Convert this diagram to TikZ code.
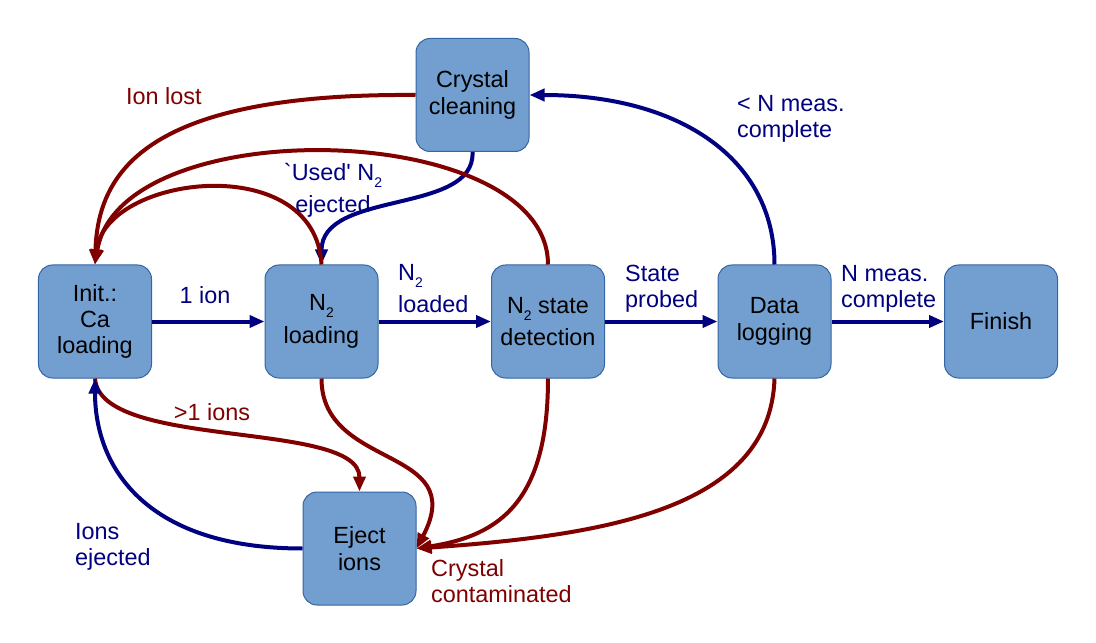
\documentclass[tikz,border=0pt]{standalone}
\usepackage{fontspec}
\newfontfamily\lsans{Liberation Sans}
\usetikzlibrary{arrows.meta}
\definecolor{boxfill}{HTML}{729FCF}
\definecolor{boxline}{HTML}{3465A4}
\definecolor{navyc}{HTML}{000080}
\definecolor{maroonc}{HTML}{800000}
\newcommand\Ntwo{N\raisebox{-7bp}{\fontsize{14}{14}\selectfont 2}}
\begin{document}
\begin{tikzpicture}[x=1bp,y=-1bp,
  font=\lsans\fontsize{23.5}{26.5}\selectfont,
  box/.style={draw=boxline, line width=1bp, fill=boxfill, rounded corners=14bp,
    minimum width=113bp, minimum height=113bp, inner sep=0pt, align=center, text=black},
  nv/.style={draw=navyc, line width=4bp, -{Triangle[length=15bp,width=12bp]}},
  rd/.style={draw=maroonc, line width=4bp, -{Triangle[length=15bp,width=12bp]}},
  nlab/.style={text=navyc, inner sep=0pt},
  rlab/.style={text=maroonc, inner sep=0pt}]
\useasboundingbox (0,0) rectangle (1096,643);
% nodes
\node[box] (init)  at (95,321.5)    {Init.:\\Ca\\loading};
\node[box] (n2)    at (321.5,321.5) {\Ntwo\\[6bp]loading};
\node[box] (det)   at (548,321.5)   {\Ntwo{} state\\[6bp]detection};
\node[box] (log)   at (774.5,321.5) {Data\\logging};
\node[box] (fin)   at (1001,321.5)  {Finish};
\node[box] (clean) at (472.5,95)    {Crystal\\cleaning};
\node[box] (eject) at (359.5,548.5) {Eject\\ions};
% straight connectors
\draw[nv] (init.east) -- (n2.west);
\draw[nv] (n2.east) -- (det.west);
\draw[nv] (det.east) -- (log.west);
\draw[nv] (log.east) -- (fin.west);
% upper curves
\draw[nv] (log.north) .. controls +(0,-105) and +(151,0) .. (clean.east);
\draw[nv] (clean.south) .. controls +(3,63) and +(0,-75) .. (n2.north);
\draw[rd] (clean.west) .. controls +(-266,-2) and +(3,-95) .. (init.north);
\draw[rd] (n2.north) .. controls +(-6,-115) and +(10,-90) .. (init.north);
\draw[rd] (det.north) .. controls +(0,-145) and +(25,-155) .. (init.north);
% lower curves
\draw[rd] (init.south) .. controls +(5,72) and +(0,-72) .. (eject.north);
\draw[nv] (eject.west) .. controls +(-153,0) and +(0,92) .. (init.south);
\draw[rd] (n2.south) .. controls +(0,92) and +(54,-103) .. (eject.east);
\draw[rd] (det.south) .. controls +(0,122) and +(84,-13) .. (eject.east);
\draw[rd] (log.south) .. controls +(-4,132) and +(184,-13) .. (eject.east);
% labels
\node[nlab, anchor=north] (l1) at (205,286) {1 ion};
\node[nlab, anchor=north west, align=left] (l2) at (398,264) {\Ntwo\\[6bp]loaded};
\node[nlab, anchor=north west, align=left] (l3) at (625,265) {State\\probed};
\node[nlab, anchor=north west, align=left] (l4) at (841,265) {N meas.\\complete};
\node[nlab, anchor=north west, align=left] (l5) at (737,95) {< N meas.\\complete};
\node[rlab, anchor=north west] (l6) at (126,87) {Ion lost};
\node[nlab, anchor=north, align=center] (l7) at (333,163) {`Used' \Ntwo\\[6bp]ejected};
\node[rlab, anchor=north] (l8) at (212,403) {>1 ions};
\node[nlab, anchor=north west, align=left] (l9) at (75,523) {Ions\\ejected};
\node[rlab, anchor=north west, align=left] (l10) at (431,559) {Crystal\\contaminated};
\end{tikzpicture}
\end{document}
